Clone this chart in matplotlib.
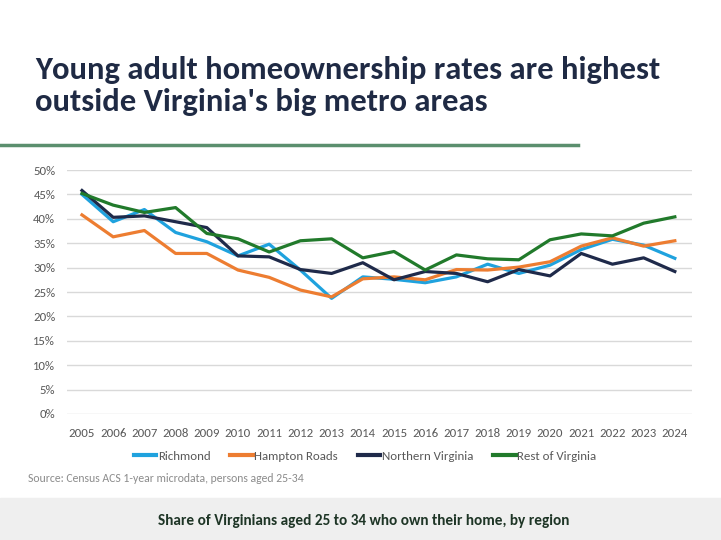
import matplotlib
matplotlib.use("Agg")
import matplotlib.pyplot as plt
from matplotlib.patches import Rectangle
from matplotlib.lines import Line2D

# datos
years = list(range(2005, 2025))
richmond = [45.0, 39.4, 41.9, 37.2, 35.3, 32.4, 34.8, 29.5, 23.7, 28.1, 27.6,
            26.9, 28.1, 30.7, 28.8, 30.5, 33.7, 35.8, 34.6, 31.9]
hampton = [40.8, 36.3, 37.6, 32.9, 32.9, 29.5, 28.0, 25.4, 24.0, 27.7, 28.1,
           27.5, 29.6, 29.5, 30.1, 31.2, 34.4, 36.1, 34.4, 35.5]
nova = [45.8, 40.3, 40.6, 39.4, 38.2, 32.4, 32.2, 29.6, 28.8, 31.0, 27.5,
        29.2, 28.8, 27.1, 29.6, 28.3, 32.9, 30.7, 32.0, 29.2]
rest = [45.2, 42.8, 41.3, 42.3, 37.0, 35.9, 33.2, 35.5, 35.9, 32.0, 33.3,
        29.5, 32.6, 31.8, 31.6, 35.7, 36.9, 36.5, 39.1, 40.4]
names = ["Richmond", "Hampton Roads", "Northern Virginia", "Rest of Virginia"]
colores = ["#1FA2DE", "#ED7D31", "#1F2A4A", "#217A2B"]

plt.rcParams["font.family"] = ["Carlito", "DejaVu Sans"]

fig = plt.figure(figsize=(7.21, 5.4), dpi=100)

# titulo, dos lineas
titulo = ["Young adult homeownership rates are highest", "outside Virginia's big metro areas"]
for i, linea in enumerate(titulo):
    fig.text(35 / 721, 1 - (79.5 + 31 * i) / 540, linea, fontsize=23.5, fontweight="bold",
             color="#1F2A44", va="baseline", ha="left")
# linea verde debajo del titulo
fig.add_artist(Line2D([0, 578 / 721], [1 - 145 / 540, 1 - 145 / 540], color="#5B8F6E", lw=2.5))

ax = fig.add_axes([67 / 721, 1 - 414 / 540, (692 - 67) / 721, (414 - 170) / 540])
series = [richmond, hampton, nova, rest]
for vals, nom, c in zip(series, names, colores):
    ax.plot(years, [v / 100 for v in vals], color=c, lw=2.3, label=nom)

ax.set_ylim(0, 0.5)
ax.set_xlim(2004.52, 2024.55)
ax.set_yticks([i * 0.05 for i in range(11)])
ax.set_yticklabels([f"{i * 5}%" for i in range(11)])
ax.set_xticks(years)
ax.grid(axis="y", color="#D9D9D9", lw=1)
ax.set_axisbelow(True)
for s in ax.spines.values():
    s.set_visible(False)
ax.tick_params(length=0, labelsize=9.2, colors="#595959")
ax.tick_params(axis="y", pad=8.5)
ax.tick_params(axis="x", pad=10)

leg = fig.legend(loc="center", bbox_to_anchor=(365 / 721, 1 - 456 / 540), ncol=4, frameon=False,
                 fontsize=9.3, handlelength=1.75, handletextpad=0.1, columnspacing=1.55,
                 borderpad=0)
for t in leg.get_texts():
    t.set_color("#595959")
for h in leg.legend_handles:
    h.set_linewidth(3)

fig.text(28 / 721, 1 - 479 / 540, "Source: Census ACS 1-year microdata, persons aged 25-34",
         fontsize=8.5, color="#8C8C8C", va="center")

# banda gris de abajo
fig.add_artist(Rectangle((0, 0), 1, 42 / 540, transform=fig.transFigure, color="#EFEFEF", zorder=0))
fig.text(364 / 721, 1 - 521 / 540, "Share of Virginians aged 25 to 34 who own their home, by region",
         fontsize=11, fontweight="bold", color="#1E3526", ha="center", va="center")

fig.savefig("out.png", dpi=100)
